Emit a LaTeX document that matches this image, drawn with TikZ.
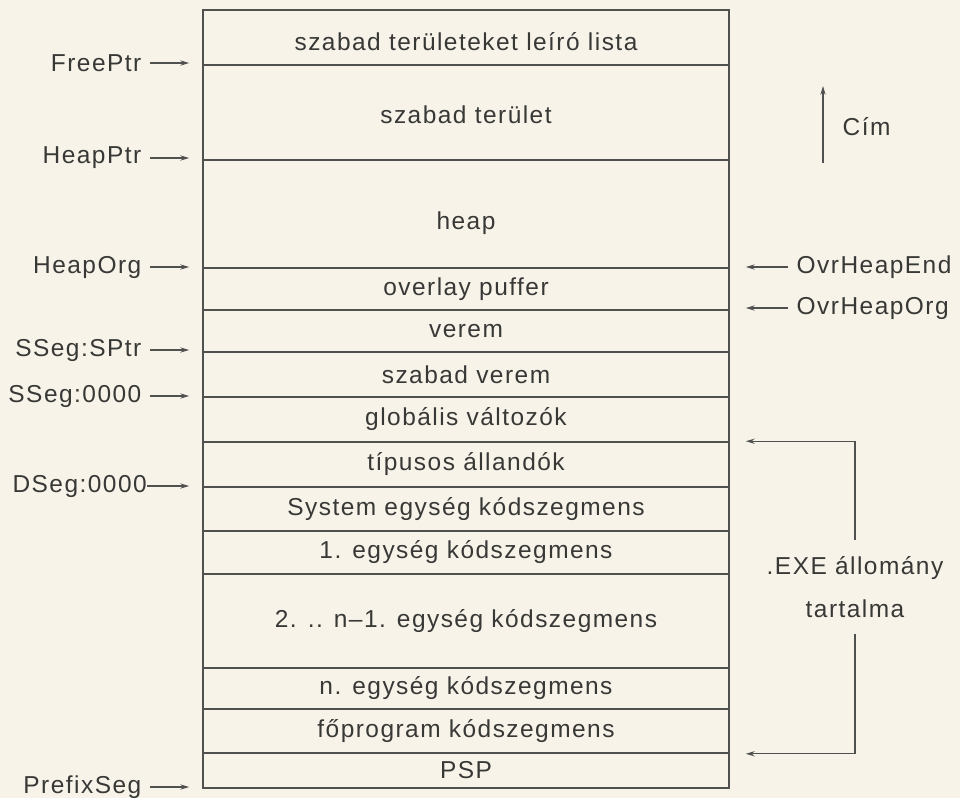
\documentclass[tikz,border=0pt]{standalone}
\usepackage{fontspec}
\setmainfont{Liberation Sans}[LetterSpace=6]
\usetikzlibrary{arrows.meta}
\definecolor{paper}{RGB}{247,243,233}
\definecolor{ink}{RGB}{56,56,54}
\definecolor{rule}{RGB}{80,80,78}

\begin{document}
\begin{tikzpicture}[x=0.025cm, y=-0.025cm, font=\fontsize{17.4}{21}\selectfont, text=ink,
	row/.style={draw=rule, line width=1.1pt, minimum width=13.15cm, inner sep=0pt},
	ptr/.style={draw=rule, line width=0.9pt, -{Stealth[length=2.2mm,width=1.3mm]}},
	lbl/.style={inner sep=6pt}]
	\useasboundingbox[fill=paper] (0,0) rectangle (960,798);
	\node[row, minimum height=1.375cm] (lista) at (466,37.5) {};
	\node (listatxt) at (466,42) {szabad területeket leíró lista};
	\node[row, minimum height=2.375cm] (szabter) at (466,112.5) {};
	\node (szabtertxt) at (466,115) {szabad terület};
	\node[row, minimum height=2.7cm] (heap) at (466,214) {};
	\node (heaptxt) at (466,223) {heap};
	\node[row, minimum height=1.05cm] (overlay) at (466,289) {overlay puffer};
	\node[row, minimum height=1.05cm] (verem) at (466,331) {verem};
	\node[row, minimum height=1.125cm] (szabverem) at (466,374.5) {szabad verem};
	\node[row, minimum height=1.125cm] (glob) at (466,419.5) {globális változók};
	\node[row, minimum height=1.125cm] (tipus) at (466,464.5) {típusos állandók};
	\node[row, minimum height=1.1cm] (system) at (466,509) {System egység kódszegmens};
	\node[row, minimum height=1.075cm] (egy) at (466,552.5) {1. egység kódszegmens};
	\node[row, minimum height=2.35cm] (ketto) at (466,621) {2. .. n–1. egység kódszegmens};
	\node[row, minimum height=1.025cm] (nedik) at (466,688.5) {n. egység kódszegmens};
	\node[row, minimum height=1.1cm] (fo) at (466,731) {főprogram kódszegmens};
	\node[row, minimum height=0.875cm] (psp) at (466,770.5) {PSP};

	\node[lbl, anchor=east] (freeptr) at (150,63) {FreePtr};
	\node[lbl, anchor=east] (heapptr) at (150,158) {HeapPtr};
	\node[lbl, anchor=east] (heaporg) at (150,267) {HeapOrg};
	\node[lbl, anchor=east] (ssegsp) at (150,350) {SSeg:SPtr};
	\node[lbl, anchor=east] (sseg) at (150,396) {SSeg:0000};
	\node[lbl, anchor=east, inner xsep=0pt] (dseg) at (147,486) {DSeg:0000};
	\node[lbl, anchor=east] (prefix) at (150,787) {PrefixSeg};
	\foreach \p in {freeptr,heapptr,heaporg,ssegsp,sseg,dseg,prefix}
		\draw[ptr, shorten >=0.325cm] (\p.east) -- (\p.east -| lista.west);

	\node[lbl, anchor=west] (ovrend) at (788,267) {OvrHeapEnd};
	\node[lbl, anchor=west] (ovrorg) at (788,308) {OvrHeapOrg};
	\draw[ptr, shorten >=0.4cm] (ovrend.west) -- (ovrend.west -| heap.east);
	\draw[ptr, shorten >=0.4cm] (ovrorg.west) -- (ovrorg.west -| heap.east);

	\coordinate (cimlo) at (823,163);
	\coordinate (cimhi) at (823,86);
	\draw[ptr] (cimlo) -- (cimhi);
	\node[lbl, anchor=west] (cim) at (834,127) {Cím};

	\node[align=center, font=\fontsize{17.4}{31}\selectfont, minimum height=2.325cm] (exe) at (855,587) {.EXE állomány\\tartalma};
	\draw[ptr, shorten >=0.4cm] (exe.north) |- (tipus.north east);
	\draw[ptr, shorten >=0.4cm] (exe.south) |- (fo.south east);
\end{tikzpicture}
\end{document}
